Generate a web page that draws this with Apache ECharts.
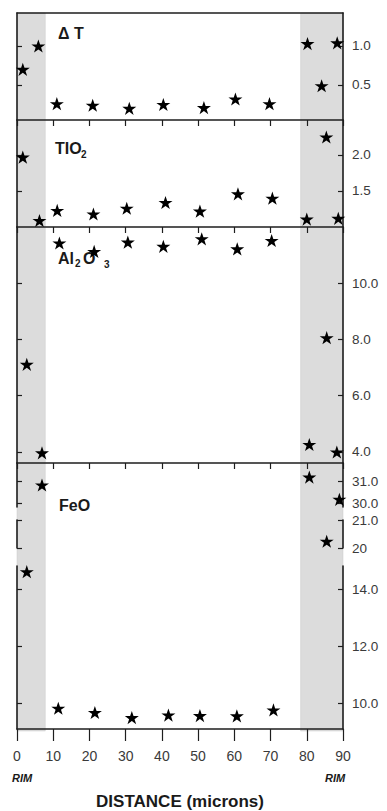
<!DOCTYPE html>
<html>
<head>
<meta charset="utf-8">
<script src="https://cdn.jsdelivr.net/npm/echarts@6/dist/echarts.min.js"></script>
<style>
html,body{margin:0;padding:0;background:#fff;}
#chart{width:387px;height:811px;}
</style>
</head>
<body>
<div id="chart"></div>
<script>
// ---------------- DATA ----------------
const xTickValues = [0, 10, 20, 30, 40, 50, 60, 70, 80, 90];
const rimZones = [[0, 7.8], [78.3, 90]];

const dtX = [1.6, 5.9, 11.0, 20.9, 31.0, 40.4, 51.6, 60.3, 69.7, 80.2, 84.1, 88.4];
const dtY = [0.70, 1.00, 0.26, 0.24, 0.20, 0.25, 0.21, 0.32, 0.26, 1.03, 0.49, 1.04];
const dtTicks = [0.5, 1.0];

const tiX = [1.6, 6.2, 11.1, 21.1, 30.3, 41.0, 50.5, 61.0, 70.5, 80.0, 85.4, 88.7];
const tiY = [1.97, 1.09, 1.23, 1.18, 1.26, 1.34, 1.22, 1.46, 1.40, 1.11, 2.25, 1.12];
const tiTicks = [1.5, 2.0];

const alX = [2.7, 6.9, 11.7, 21.3, 30.6, 40.4, 51.0, 60.8, 70.3, 80.7, 85.5, 88.3];
const alY = [7.11, 3.96, 11.43, 11.13, 11.46, 11.31, 11.58, 11.22, 11.52, 4.26, 8.06, 3.99];
const alTicks = [4, 6, 8, 10];

const feX = [2.7, 6.9, 11.4, 21.5, 31.7, 41.8, 50.5, 60.7, 70.8, 80.7, 85.5, 89.0];
const feY = [14.63, 30.82, 9.83, 9.68, 9.50, 9.59, 9.57, 9.56, 9.77, 31.18, 20.24, 30.17];
const feTicksTop = [30, 31];
const feTicksMid = [20, 21];
const feTicksLow = [10, 12, 14];
const feLabelMid = {20: '20', 21: '21.0'};

// ---------------- LAYOUT ----------------
const L = 17, W = 326;
const AX = '#1e1e1e';
const LBL = '#3a3a3a';
const FONT = "'Liberation Sans', Arial, Helvetica, sans-serif";
const STAR = 'path://M50,0 L61.8,35.1 L98.9,35.1 L68.9,56.8 L80.3,91.9 L50,70.2 L19.7,91.9 L31.1,56.8 L1.1,35.1 L38.2,35.1 Z';

const panels = [
  {top: 13,  height: 107, min: 0.051, max: 1.423, ticks: dtTicks, topAx: 'line'},
  {top: 120, height: 107, min: 1.0,   max: 2.486, ticks: tiTicks, topAx: 'ticks'},
  {top: 227, height: 236, min: 3.6,   max: 12.0,  ticks: alTicks, topAx: 'ticks'},
  {top: 463, height: 44,  min: 29.82, max: 31.82, ticks: feTicksTop, topAx: 'ticks'},
  {top: 520, height: 28,  min: 20,    max: 21,    ticks: feTicksMid, topAx: 'none'},
  {top: 566, height: 165, min: 9.10,  max: 14.83, ticks: feTicksLow, topAx: 'none', bottom: true}
];

function pairs(xs, ys) { return xs.map((x, i) => [x, ys[i]]); }

const feSeg = [[], [], []];
feX.forEach((x, i) => {
  const y = feY[i];
  for (let s = 0; s < 3; s++) {
    const p = panels[3 + s];
    if (y >= p.min && y <= p.max) { feSeg[s].push([x, y]); break; }
  }
});
const panelData = [pairs(dtX, dtY), pairs(tiX, tiY), pairs(alX, alY), feSeg[0], feSeg[1], feSeg[2]];

const grid = [{left: L, width: W, top: 13, height: 718}];
const xAxis = [{gridIndex: 0, type: 'value', min: 0, max: 90, show: false}];
const yAxis = [{gridIndex: 0, type: 'value', min: 0, max: 1, show: false}];
const series = [{
  type: 'line', xAxisIndex: 0, yAxisIndex: 0, data: [[0, 0]], symbol: 'none',
  lineStyle: {opacity: 0}, silent: true, z: 0,
  markArea: {
    silent: true,
    itemStyle: {color: '#dcdcdc', borderColor: '#c8c8c8', borderWidth: 0.5},
    data: rimZones.map(z => [{xAxis: z[0]}, {xAxis: z[1]}])
  }
}];

panels.forEach((p, i) => {
  const gi = i + 1;
  grid.push({left: L, width: W, top: p.top, height: p.height});
  xAxis.push({
    gridIndex: gi, type: 'value', min: 0, max: 90, interval: 10, position: 'top', z: 10,
    show: p.topAx !== 'none',
    axisLine: {show: true, onZero: false, lineStyle: {color: AX, width: 1.6}},
    axisTick: {show: p.topAx === 'ticks', inside: true, length: 6, lineStyle: {color: AX, width: 1.2}},
    axisLabel: {show: false}, splitLine: {show: false}
  });
  const fmt = v => (i === 4 ? feLabelMid[v] : Number(v).toFixed(1));
  yAxis.push({
    gridIndex: gi, type: 'value', min: p.min, max: p.max, position: 'right', z: 10,
    axisLine: {show: true, onZero: false, lineStyle: {color: AX, width: 1.6}},
    axisTick: {show: true, inside: true, length: 5, customValues: p.ticks, lineStyle: {color: AX, width: 1.2}},
    axisLabel: {show: true, customValues: p.ticks, formatter: fmt, margin: 9, color: LBL, fontSize: 13.5, fontFamily: FONT},
    splitLine: {show: false}
  });
  yAxis.push({
    gridIndex: gi, type: 'value', min: p.min, max: p.max, position: 'left', z: 10,
    axisLine: {show: true, onZero: false, lineStyle: {color: AX, width: 1.6}},
    axisTick: {show: true, inside: true, length: 5, customValues: p.ticks, lineStyle: {color: AX, width: 1.2}},
    axisLabel: {show: false}, splitLine: {show: false}
  });
  const xi = xAxis.length - 1;
  const yi = yAxis.length - 2;
  series.push({
    type: 'scatter', xAxisIndex: xi, yAxisIndex: yi, data: panelData[i],
    symbol: STAR, symbolSize: 14, symbolKeepAspect: true,
    itemStyle: {color: '#000', opacity: 1}, z: 20
  });
  if (p.bottom) {
    xAxis.push({
      gridIndex: gi, type: 'value', min: 0, max: 90, interval: 10, position: 'bottom', z: 10,
      axisLine: {show: true, onZero: false, lineStyle: {color: AX, width: 1.6}},
      axisTick: {show: true, inside: false, length: 12, lineStyle: {color: AX, width: 1.2}},
      axisLabel: {show: true, margin: 20, color: LBL, fontSize: 14, fontFamily: FONT,
        showMinLabel: true, showMaxLabel: true},
      splitLine: {show: false},
      name: 'DISTANCE (microns)', nameLocation: 'middle', nameGap: 64,
      nameTextStyle: {color: '#1a1a1a', fontSize: 17, fontWeight: 'bold', fontFamily: FONT}
    });
  }
});

const titleStyle = {fontSize: 16, fontWeight: 'bold', fontFamily: FONT, fill: '#1a1a1a'};
const subStyle = {fontSize: 10, fontWeight: 'bold', fontFamily: FONT, fill: '#1a1a1a'};
const graphic = [
  {type: 'text', left: 58, top: 25, style: Object.assign({text: 'Δ T'}, titleStyle)},
  {type: 'text', left: 55, top: 140, style: Object.assign({text: 'TIO'}, titleStyle)},
  {type: 'text', left: 81, top: 149, style: Object.assign({text: '2'}, subStyle)},
  {type: 'text', left: 58, top: 250, style: Object.assign({text: 'Al'}, titleStyle)},
  {type: 'text', left: 75, top: 258, style: Object.assign({text: '2'}, subStyle)},
  {type: 'text', left: 83, top: 250, style: Object.assign({text: 'O'}, titleStyle)},
  {type: 'text', left: 104, top: 259, style: Object.assign({text: '3'}, subStyle)},
  {type: 'text', left: 59, top: 497, style: Object.assign({text: 'FeO'}, titleStyle)},
  {type: 'text', left: 12, top: 772, style: {text: 'RIM', fontSize: 11, fontWeight: 'bold', fontStyle: 'italic', fontFamily: FONT, fill: '#1a1a1a'}},
  {type: 'text', left: 325, top: 772, style: {text: 'RIM', fontSize: 11, fontWeight: 'bold', fontStyle: 'italic', fontFamily: FONT, fill: '#1a1a1a'}}
];

const chart = echarts.init(document.getElementById('chart'), null, {renderer: 'svg'});
chart.setOption({
  backgroundColor: '#ffffff',
  animation: false,
  grid, xAxis, yAxis, series, graphic
});
</script>
</body>
</html>
